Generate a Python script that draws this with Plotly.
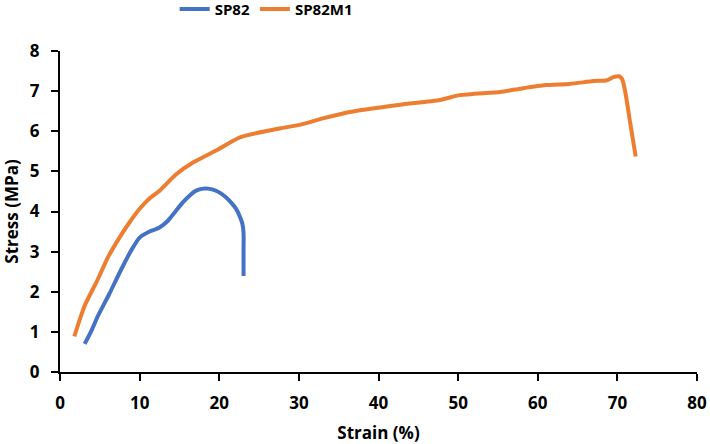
import plotly.graph_objects as go

# SP82 (blue)
sp82_strain = [3.1, 4.0, 4.75, 6.2, 7.7, 9.0, 10.0, 11.25, 12.5, 13.55, 14.5, 15.4, 16.3, 17.1, 18.0, 18.6, 19.3, 20.05, 20.8, 21.5, 22.1, 22.55, 22.9, 23.05, 23.05, 23.05]
sp82_stress = [0.70, 1.05, 1.39, 1.95, 2.56, 3.05, 3.35, 3.50, 3.60, 3.77, 4.00, 4.22, 4.40, 4.52, 4.57, 4.57, 4.54, 4.47, 4.36, 4.22, 4.07, 3.89, 3.70, 3.47, 2.97, 2.39]

# SP82M1 (orange)
sp82m1_strain = [1.8, 3.07, 4.75, 6.0, 7.47, 8.7, 9.98, 11.2, 12.5, 14.6, 16.7, 19.6, 22.6, 27.6, 30.1, 33.0, 36.4, 42.7, 47.7, 50.2, 55.3, 57.8, 61.0, 64.0, 67.0, 68.7, 69.5, 70.2, 70.6, 71.0, 71.6, 72.3]
sp82m1_stress = [0.89, 1.64, 2.31, 2.85, 3.35, 3.72, 4.06, 4.32, 4.52, 4.93, 5.22, 5.52, 5.85, 6.07, 6.16, 6.32, 6.48, 6.66, 6.78, 6.90, 6.98, 7.06, 7.15, 7.18, 7.25, 7.27, 7.35, 7.37, 7.30, 6.97, 6.22, 5.37]

x_ticks = [0, 10, 20, 30, 40, 50, 60, 70, 80]
y_ticks = [0, 1, 2, 3, 4, 5, 6, 7, 8]

FONT = "Open Sans"
fig = go.Figure()
fig.add_trace(go.Scatter(x=sp82_strain, y=sp82_stress, mode="lines", name="SP82",
                         line=dict(color="#4472C4", width=4, shape="spline", smoothing=0.6)))
fig.add_trace(go.Scatter(x=sp82m1_strain, y=sp82m1_stress, mode="lines", name="SP82M1",
                         line=dict(color="#ED7D31", width=4, shape="spline", smoothing=0.6)))

axis_common = dict(showline=True, linecolor="black", linewidth=2, ticks="outside",
                   tickcolor="black", tickwidth=2, ticklen=7, showgrid=False, zeroline=False,
                   ticklabelstandoff=8,
                   tickfont=dict(family=FONT, size=17, color="black", weight="bold"))
fig.update_layout(
    width=710, height=444,
    margin=dict(l=60, r=13, t=51, b=72, autoexpand=False),
    paper_bgcolor="white", plot_bgcolor="white",
    showlegend=True,
    legend=dict(orientation="h", x=0.18, xanchor="left", y=1.13, yanchor="middle",
                font=dict(family=FONT, size=15, color="black", weight="bold"),
                itemwidth=30, tracegroupgap=0),
    xaxis=dict(range=[0, 80], tickvals=x_ticks,
               title=dict(text="Strain (%)", font=dict(family=FONT, size=17, color="black", weight="bold"), standoff=14),
               **axis_common),
    yaxis=dict(range=[0, 8], tickvals=y_ticks,
               title=dict(text="Stress (MPa)", font=dict(family=FONT, size=17, color="black", weight="bold"), standoff=8),
               **axis_common),
)
fig.write_html("out.html", config={"displayModeBar": False},
               post_script="document.body.style.margin='0';")
